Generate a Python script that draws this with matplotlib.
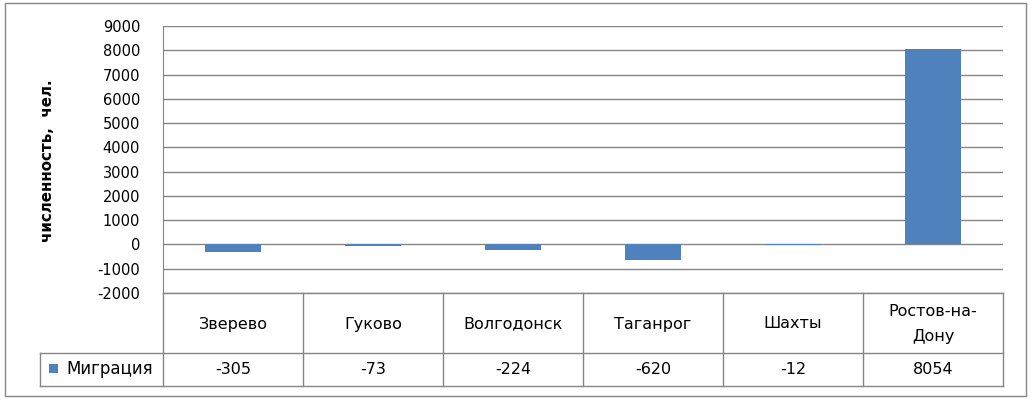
import matplotlib
matplotlib.use("Agg")
import matplotlib.pyplot as plt
from matplotlib.lines import Line2D
from matplotlib.patches import Rectangle

categories = ["Зверево", "Гуково", "Волгодонск", "Таганрог", "Шахты", "Ростов-на-\nДону"]
values = [-305, -73, -224, -620, -12, 8054]
value_labels = ["-305", "-73", "-224", "-620", "-12", "8054"]
series_name = "Миграция"
y_label = "численность,  чел."
y_ticks = list(range(-2000, 9001, 1000))

W, H = 1031, 400
plt.rcParams['font.family'] = ['DejaVu Sans']
fig = plt.figure(figsize=(W / 100, H / 100), dpi=100)
fig.patch.set_facecolor("white")

def fx(x):
    return x / W

def fy(y):
    return 1 - y / H

GRID = "#868686"
BAR = "#4F81BD"
TFS = 11.5

left, right, top, bottom = 163, 1003, 26, 293
ax = fig.add_axes([fx(left), fy(bottom), fx(right) - fx(left), fy(top) - fy(bottom)])
n = len(categories)
ax.bar(range(n), values, width=0.4, color=BAR, zorder=3)
ax.set_xlim(-0.5, n - 0.5)
ax.set_ylim(-2000, 9000)
ax.set_yticks(y_ticks)
ax.set_yticklabels([str(t) for t in y_ticks], fontsize=10.5)
ax.tick_params(axis="y", length=0, pad=16.5)
ax.set_xticks([])
ax.grid(axis="y", color=GRID, linewidth=1)
ax.set_axisbelow(True)
for s in ["top", "right", "bottom"]:
    ax.spines[s].set_visible(False)
ax.spines["left"].set_color(GRID)
ax.set_facecolor("none")

# y label
fig.text(fx(48), fy(161), y_label, rotation=90, ha="center", va="center",
         fontsize=10.8, fontweight="bold")

def line(x0, y0, x1, y1):
    fig.add_artist(Line2D([fx(x0), fx(x1)], [fy(y0), fy(y1)], color=GRID, linewidth=1))

# outer frame
fig.add_artist(Rectangle((fx(5), fy(396)), fx(1026) - fx(5), fy(3) - fy(396),
                         fill=False, edgecolor=GRID, linewidth=1))

# data table
row1, row2, row3 = 293, 353, 386
col_w = (right - left) / n
line(left, row1, right, row1)
line(40, row2, right, row2)
line(40, row3, right, row3)
line(40, row2, 40, row3)
line(left, row1, left, row3)
for i in range(n):
    x1 = left + (i + 1) * col_w
    line(x1, row1, x1, row3)
    xc = left + (i + 0.5) * col_w
    fig.text(fx(xc), fy((row1 + row2) / 2 + 1), categories[i], ha="center", va="center",
             fontsize=TFS, linespacing=1.85)
    fig.text(fx(xc), fy((row2 + row3) / 2), value_labels[i], ha="center", va="center",
             fontsize=TFS)

# legend key in table
fig.add_artist(Rectangle((fx(49), fy(373)), fx(58) - fx(49), fy(364) - fy(373),
                         facecolor=BAR, edgecolor="none"))
fig.text(fx(66), fy((row2 + row3) / 2), series_name, ha="left", va="center", fontsize=12)

fig.savefig("out.png", dpi=100, facecolor="white")
